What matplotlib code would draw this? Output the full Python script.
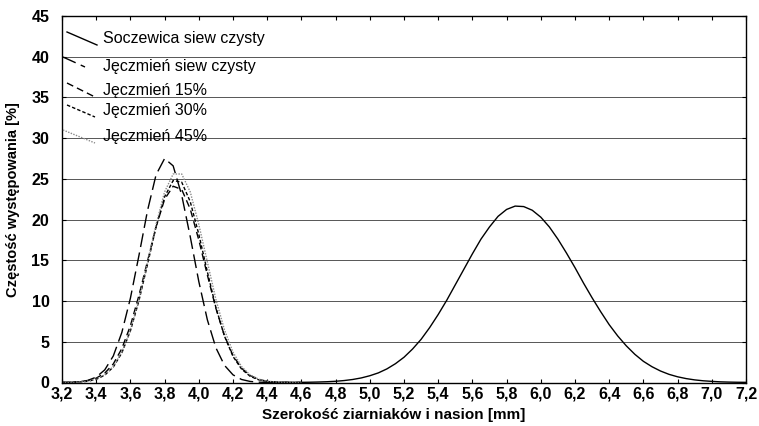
import numpy as np
import matplotlib
matplotlib.use("Agg")
import matplotlib.pyplot as plt
from matplotlib.ticker import FuncFormatter

plt.rcParams['font.family'] = ['Liberation Sans', 'DejaVu Sans']

# szerokość [mm] dla krzywych jęczmienia (co 0,05)
x_jeczmien = [3.20, 3.25, 3.30, 3.35, 3.40, 3.45, 3.50, 3.55, 3.60, 3.65,
              3.70, 3.75, 3.80, 3.85, 3.90, 3.95, 4.00, 4.05, 4.10, 4.15,
              4.20, 4.25, 4.30, 4.35, 4.40, 4.45, 4.50, 4.55, 4.60]

jeczmien_czysty = [0.01, 0.03, 0.09, 0.25, 0.66, 1.55, 3.26, 6.15, 10.35, 15.6,
                   21.1, 25.5, 27.5, 26.6, 23.0, 17.9, 12.4, 7.7, 4.26, 2.11,
                   0.94, 0.37, 0.13, 0.04, 0.01, 0.0, 0.0, 0.0, 0.0]
jeczmien_15 = [0.01, 0.03, 0.09, 0.22, 0.53, 1.15, 2.28, 4.17, 6.97, 10.7,
               14.9, 19.1, 22.5, 24.1, 23.7, 21.3, 17.5, 13.2, 9.1, 5.74,
               3.32, 1.75, 0.85, 0.37, 0.15, 0.06, 0.02, 0.0, 0.0]
jeczmien_30 = [0.01, 0.02, 0.06, 0.15, 0.39, 0.90, 1.9, 3.64, 6.34, 10.05,
               14.5, 19.1, 22.8, 24.8, 24.6, 22.2, 18.2, 13.6, 9.2, 5.7,
               3.2, 1.65, 0.77, 0.33, 0.13, 0.04, 0.01, 0.0, 0.0]
jeczmien_45 = [0.01, 0.02, 0.06, 0.16, 0.41, 0.94, 1.96, 3.72, 6.46, 10.2,
               14.8, 19.4, 23.4, 25.6, 25.6, 23.4, 19.4, 14.8, 10.2, 6.46,
               3.72, 1.96, 0.94, 0.41, 0.16, 0.06, 0.02, 0.01, 0.0]

# soczewica (co 0,05)
x_soczewica = [4.40, 4.45, 4.50, 4.55, 4.60, 4.65, 4.70, 4.75, 4.80, 4.85,
               4.90, 4.95, 5.00, 5.05, 5.10, 5.15, 5.20, 5.25, 5.30, 5.35,
               5.40, 5.45, 5.50, 5.55, 5.60, 5.65, 5.70, 5.75, 5.80, 5.85,
               5.90, 5.95, 6.00, 6.05, 6.10, 6.15, 6.20, 6.25, 6.30, 6.35,
               6.40, 6.45, 6.50, 6.55, 6.60, 6.65, 6.70, 6.75, 6.80, 6.85,
               6.90, 6.95, 7.00, 7.05, 7.10, 7.15, 7.20]
soczewica = [0.0, 0.0, 0.01, 0.01, 0.02, 0.035, 0.06, 0.095, 0.15, 0.24,
             0.37, 0.56, 0.83, 1.18, 1.67, 2.31, 3.1, 4.11, 5.3, 6.74,
             8.35, 10.1, 12.0, 13.9, 15.8, 17.6, 19.1, 20.4, 21.25, 21.66,
             21.6, 21.15, 20.3, 19.1, 17.6, 15.9, 14.1, 12.2, 10.4, 8.7,
             7.1, 5.71, 4.5, 3.46, 2.6, 1.94, 1.41, 1.0, 0.7, 0.48,
             0.32, 0.21, 0.14, 0.08, 0.05, 0.03, 0.02]

etykiety = ["Soczewica siew czysty", "Jęczmień siew czysty", "Jęczmień 15%",
            "Jęczmień 30%", "Jęczmień 45%"]

W, H = 759, 426
fig = plt.figure(figsize=(W / 100, H / 100), dpi=100)
ax = fig.add_axes([62 / W, 1 - 382.5 / H, 684 / W, 366.5 / H])

style = [
    dict(color="black", lw=1.0, ls="-"),
    dict(color="black", lw=1.0, ls=(0, (10, 4))),
    dict(color="black", lw=1.0, ls=(0, (5, 3))),
    dict(color="black", lw=1.0, ls=(0, (2.5, 1.5))),
    dict(color="#8a8a8a", lw=1.0, ls=(0, (1, 1))),
]

serie = [(x_soczewica, soczewica), (x_jeczmien, jeczmien_czysty),
         (x_jeczmien, jeczmien_15), (x_jeczmien, jeczmien_30),
         (x_jeczmien, jeczmien_45)]
for (xs, ys), st in zip(serie, style):
    ax.plot(xs, ys, **st)

ax.set_xlim(3.2, 7.2)
ax.set_ylim(0, 45)
ax.set_xticks(np.arange(3.2, 7.21, 0.2))
ax.set_yticks(np.arange(0, 46, 5))
ax.xaxis.set_major_formatter(FuncFormatter(lambda v, p: f"{v:.1f}".replace(".", ",")))
ax.yaxis.grid(True, color="#555555", lw=0.7)
ax.set_axisbelow(True)
ax.tick_params(direction="in", top=True, right=True, length=3, width=0.8,
               labelsize=11.5)
ax.tick_params(axis="y", pad=9)
ax.tick_params(axis="x", pad=3)
for lab in ax.get_xticklabels() + ax.get_yticklabels():
    lab.set_fontweight("bold")
for sp in ax.spines.values():
    sp.set_linewidth(1.0)

ax.set_xlabel("Szerokość ziarniaków i nasion [mm]", fontsize=11, fontweight="bold")
ax.xaxis.set_label_coords(332 / 684, -25 / 366.5)
ax.set_ylabel("Częstość występowania [%]", fontsize=10.5, fontweight="bold")
ax.yaxis.set_label_coords(-42 / 684, 0.5)

# legenda w stylu Statistica: ukośne odcinki (pozycje w pikselach)
wiersze = [(32, 45, 39), (57, 67, 66), (83, 97, 91), (105, 117, 111), (130, 143, 137)]
x_od = [67, 63, 67, 67, 63]
x_do = [97, 85, 95, 95, 95]
for (y1, y2, yt), xa, xb, st, lab in zip(wiersze, x_od, x_do, style, etykiety):
    fig.add_artist(plt.Line2D([xa / W, xb / W], [1 - y1 / H, 1 - y2 / H],
                              transform=fig.transFigure, **st))
    fig.text(103 / W, 1 - yt / H, lab, fontsize=11.5, va="center", ha="left")

fig.savefig("out.png", dpi=100)
